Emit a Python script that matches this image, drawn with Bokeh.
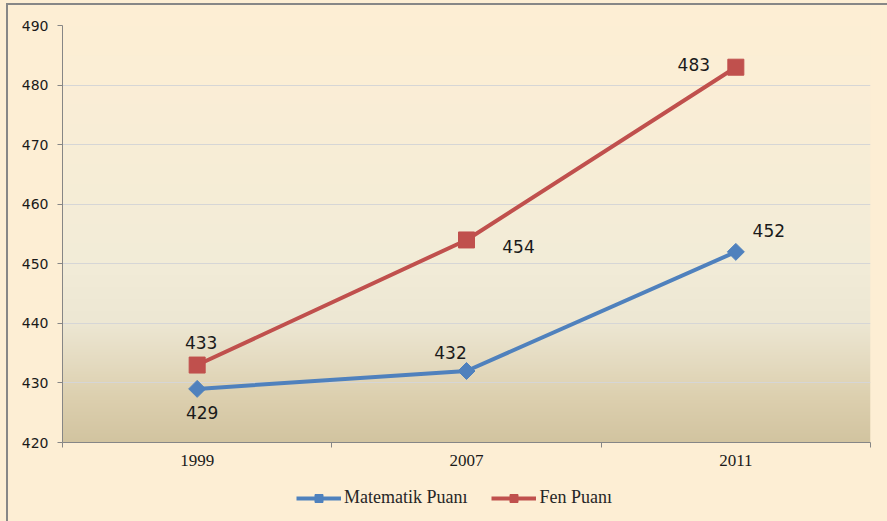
import numpy as np
from bokeh.plotting import figure
from bokeh.layouts import column
from bokeh.models import (Range1d, FixedTicker, Legend, LegendItem,
                          GlobalInlineStyleSheet)
from bokeh.core.properties import value
from bokeh.embed import file_html
from bokeh.resources import INLINE

# ---- data ----
years = ["1999", "2007", "2011"]
matematik = [429, 432, 452]
fen = [433, 454, 483]
y_ticks = [420, 430, 440, 450, 460, 470, 480, 490]
series_names = ["Matematik Puanı", "Fen Puanı"]

# ---- label offsets (pixels, style only) ----
mat_dx = [5, -16, 33]
mat_dy = [24, -19, -21]
fen_dx = [4, 52, -42]
fen_dy = [-23, 7, -3]

BLUE = "#4F81BD"
RED = "#C0504D"
CREAM = "#FDEED4"
AXIS = "#868686"

xs = [i + 0.5 for i in range(len(years))]
ymin, ymax = y_ticks[0], y_ticks[-1]

p = figure(width=879, height=478, output_backend="svg", toolbar_location=None,
           x_range=Range1d(0, len(years)), y_range=Range1d(ymin, ymax),
           min_border_left=54, min_border_right=17, min_border_top=20,
           min_border_bottom=41)
p.border_fill_color = CREAM
p.background_fill_color = CREAM
p.outline_line_color = None

# gradient background of plot area
stops_v = [420, 427, 440, 450, 460, 480, 490]
stops_c = [(210, 196, 160), (220, 207, 174), (237, 231, 211), (242, 236, 216),
           (245, 237, 215), (251, 238, 214), (253, 238, 212)]
n = 420
yy = np.linspace(ymin, ymax, n)
img = np.empty((n, 1), dtype=np.uint32)
view = img.view(dtype=np.uint8).reshape((n, 1, 4))
for k in range(3):
    view[:, 0, k] = np.interp(yy, stops_v, [c[k] for c in stops_c]).astype(np.uint8)
view[:, 0, 3] = 255
p.image_rgba(image=[img], x=0, y=ymin, dw=len(years), dh=ymax - ymin, level="image")

# grid
p.xgrid.grid_line_color = None
p.ygrid.grid_line_color = "#D6D6D6"
p.ygrid.grid_line_width = 1

# y axis
p.yaxis.ticker = FixedTicker(ticks=y_ticks)
p.yaxis.axis_line_color = AXIS
p.yaxis.major_tick_line_color = AXIS
p.yaxis.major_tick_out = 5
p.yaxis.major_tick_in = 0
p.yaxis.minor_tick_line_color = None
p.yaxis.major_label_text_font = "DejaVu Sans"
p.yaxis.major_label_text_font_size = "14px"
p.yaxis.major_label_text_color = "#1a1a1a"
p.yaxis.major_label_standoff = 9

# x axis
p.xaxis.ticker = FixedTicker(ticks=xs, minor_ticks=list(range(len(years) + 1)))
p.xaxis.major_label_overrides = {x: y for x, y in zip(xs, years)}
p.xaxis.axis_line_color = AXIS
p.xaxis.major_tick_line_color = None
p.xaxis.major_tick_out = 5
p.xaxis.minor_tick_line_color = AXIS
p.xaxis.minor_tick_out = 5
p.xaxis.minor_tick_in = 0
p.xaxis.major_label_text_font = "Liberation Serif"
p.xaxis.major_label_text_font_size = "17px"
p.xaxis.major_label_text_color = "#1a1a1a"
p.xaxis.major_label_standoff = 7

# series
p.line(xs, matematik, line_color=BLUE, line_width=4)
p.scatter(xs, matematik, marker="square", angle=np.pi / 4, size=12,
          fill_color=BLUE, line_color=BLUE)
p.line(xs, fen, line_color=RED, line_width=4)
p.scatter(xs, fen, marker="square", size=16, fill_color=RED, line_color=RED)

# data labels
p.text(xs, matematik, text=[str(v) for v in matematik], x_offset=mat_dx, y_offset=mat_dy,
       text_align="center", text_baseline="middle", text_font=value("DejaVu Sans"),
       text_font_size="17px", text_color="#1a1a1a")
p.text(xs, fen, text=[str(v) for v in fen], x_offset=fen_dx, y_offset=fen_dy,
       text_align="center", text_baseline="middle", text_font=value("DejaVu Sans"),
       text_font_size="17px", text_color="#1a1a1a")

# ---- legend strip (separate small figure under the chart) ----
# the series are drawn again here but fall outside this strip's ranges,
# so only their legend entries are visible
q = figure(width=879, height=37, output_backend="svg", toolbar_location=None,
           x_axis_location=None, y_axis_location=None,
           x_range=Range1d(0, len(years)), y_range=Range1d(0, 1),
           min_border_left=0, min_border_right=0, min_border_top=0, min_border_bottom=0)
q.border_fill_color = CREAM
q.background_fill_color = CREAM
q.outline_line_color = None
q.grid.visible = False
ql_mat = q.line(xs, matematik, line_color=BLUE, line_width=4)
qm_mat = q.scatter(xs, matematik, marker="square", angle=np.pi / 4, size=7,
                   fill_color=BLUE, line_color=BLUE)
ql_fen = q.line(xs, fen, line_color=RED, line_width=4)
qm_fen = q.scatter(xs, fen, marker="square", size=9, fill_color=RED, line_color=RED)

legend = Legend(items=[LegendItem(label=series_names[0], renderers=[ql_mat, qm_mat]),
                       LegendItem(label=series_names[1], renderers=[ql_fen, qm_fen])],
                orientation="horizontal", location=(234, 12))
legend.background_fill_alpha = 0
legend.border_line_color = None
legend.glyph_width = 45
legend.glyph_height = 20
legend.label_standoff = 3
legend.spacing = 24
legend.label_text_font = "Liberation Serif"
legend.label_text_font_size = "18px"
legend.label_text_color = "#262626"
legend.margin = 0
legend.padding = 4
q.add_layout(legend, "center")

layout = column(p, q, spacing=0)
layout.stylesheets = [GlobalInlineStyleSheet(css=(
    "html, body { background-color: #FDEED4; } "
    "body { margin: 3px 0 0 6px; border-left: 2px solid #878787; "
    "border-top: 2px solid #878787; }"))]

open("out.html", "w").write(file_html(layout, INLINE))
